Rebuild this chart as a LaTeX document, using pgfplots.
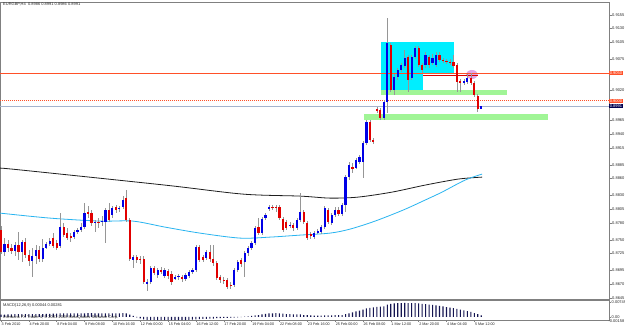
\documentclass[border=0pt]{standalone}
\usepackage{fontspec}
\setmainfont{Liberation Sans}
\usepackage{pgfplots}
\usepackage{pgfplotstable}
\pgfplotsset{compat=1.18}
\definecolor{bull}{RGB}{0,0,230}
\definecolor{bear}{RGB}{225,0,0}
\definecolor{wick}{RGB}{150,150,150}
\definecolor{maone}{RGB}{30,30,30}
\definecolor{matwo}{RGB}{40,180,240}
\definecolor{boxcyan}{RGB}{0,238,255}
\definecolor{boxgreen}{RGB}{160,245,150}
\definecolor{lvl}{RGB}{255,80,40}
\definecolor{bid}{RGB}{165,180,205}
\definecolor{bidlab}{RGB}{0,0,80}
\definecolor{ell}{RGB}{220,150,225}
\definecolor{frame}{RGB}{128,128,128}
\definecolor{txt}{RGB}{40,40,40}
\definecolor{macdc}{RGB}{20,20,80}
\newcommand\tf{\fontsize{4}{4.5}\selectfont}
\newcommand\df{\fontsize{3.7}{4.2}\selectfont}

\pgfplotstableread{
i o h l c
1 .87279 .87531 .87207 .87423
4 .87297 .87459 .87207 .87405
6 .87279 .87495 .87099 .87459
9 .87117 .87351 .86829 .87207
10 .87207 .87405 .87063 .87315
12 .87153 .87513 .87099 .87351
13 .87351 .87459 .87333 .87423
14 .87423 .87531 .87387 .87477
17 .87387 .87981 .87351 .87729
21 .87549 .87675 .87513 .87639
22 .87639 .87711 .87603 .87675
23 .87675 .87801 .87639 .87729
24 .87729 .88161 .87693 .87981
27 .87801 .87855 .87639 .87819
29 .87819 .87927 .87747 .87837
30 .87819 .88071 .87441 .88035
32 .87945 .88107 .87891 .88071
34 .88053 .88107 .87999 .88071
35 .88089 .88287 .88053 .88215
38 .87135 .87225 .86991 .87189
42 .86703 .86793 .86577 .86739
43 .86739 .87027 .86703 .86991
45 .86865 .86991 .86811 .86955
47 .86847 .86991 .86811 .86955
50 .86793 .86865 .86775 .86829
51 .86829 .86883 .86775 .86847
53 .86793 .86901 .86757 .86865
54 .86847 .86955 .86811 .86919
55 .86919 .86991 .86883 .86955
56 .86955 .87405 .86919 .87369
59 .87171 .87315 .87135 .87279
67 .86685 .86991 .86649 .86955
68 .86955 .87135 .86919 .87099
70 .87099 .87297 .86829 .87261
71 .87261 .87387 .87207 .87351
72 .87351 .87477 .87315 .87441
73 .87441 .87747 .87405 .87711
75 .87621 .87909 .87585 .87873
76 .87891 .87981 .87855 .87945
77 .88053 .88125 .88017 .88089
83 .87747 .87819 .87711 .87765
85 .87711 .87891 .87675 .87855
86 .87855 .88341 .87819 .87999
90 .87549 .87657 .87513 .87621
91 .87621 .87693 .87603 .87657
92 .87639 .87765 .87603 .87729
93 .87729 .88107 .87693 .88071
95 .87801 .87981 .87765 .87945
96 .87945 .88089 .87909 .88035
98 .87963 .88161 .87927 .88125
99 .88125 .88665 .87999 .88629
100 .88629 .88899 .88575 .88845
102 .88791 .88971 .88773 .88935
103 .88899 .89025 .88863 .88989
104 .88899 .89277 .88611 .89241
105 .89241 .89655 .89205 .89619
110 .89691 .90015 .89655 .89979
111 .89979 .91491 .89781 .91041
113 .90195 .90483 .90105 .90429
114 .90429 .90591 .90375 .90555
115 .90555 .90681 .90519 .90645
116 .90627 .90915 .90591 .90771
118 .90411 .90825 .90375 .90789
119 .90789 .90987 .90753 .90951
122 .90645 .90879 .90591 .90825
124 .90681 .90843 .90645 .90771
125 .90645 .90879 .90609 .90825
133 .90321 .90393 .90285 .90357
134 .90339 .90483 .90303 .90411
138 .89860 .89910 .89855 .89910
}\bull

\pgfplotstableread{
i o h l c
0 .87675 .87747 .87243 .87279
2 .87423 .87495 .87279 .87351
3 .87351 .87423 .87243 .87297
5 .87405 .87639 .87135 .87279
7 .87459 .87531 .87171 .87225
8 .87225 .87315 .87027 .87117
11 .87315 .87387 .87099 .87153
15 .87531 .87621 .87351 .87387
16 .87441 .87495 .87315 .87351
18 .87729 .87801 .87549 .87585
19 .87621 .87711 .87495 .87531
20 .87567 .87621 .87459 .87531
25 .87999 .88107 .87891 .87963
26 .87981 .88035 .87747 .87801
28 .87819 .87891 .87711 .87801
31 .88035 .88161 .87819 .87855
33 .88089 .88125 .87981 .88035
36 .88251 .88395 .87819 .87855
37 .87855 .87891 .87117 .87153
39 .87189 .87225 .87081 .87135
40 .87153 .87207 .87063 .87135
41 .87153 .87207 .86703 .86739
44 .86991 .87027 .86865 .86901
46 .86955 .87009 .86883 .86919
48 .86937 .86973 .86793 .86847
49 .86883 .86937 .86685 .86739
52 .86829 .86865 .86739 .86793
57 .87369 .87405 .87099 .87135
58 .87189 .87225 .87099 .87135
60 .87279 .87405 .87099 .87153
61 .87153 .87405 .87027 .87081
62 .87081 .87117 .86775 .86811
63 .86829 .86865 .86721 .86775
64 .86775 .86829 .86703 .86757
65 .86775 .86811 .86613 .86649
66 .86685 .86739 .86613 .86667
69 .87135 .87171 .87009 .87063
74 .87729 .87891 .87585 .87621
78 .88089 .88125 .88035 .88071
79 .88089 .88125 .87999 .88071
80 .88089 .88125 .87855 .87891
81 .87873 .87909 .87639 .87675
82 .87819 .87855 .87675 .87711
84 .87765 .87801 .87657 .87711
87 .87999 .88035 .87783 .87819
88 .87801 .87837 .87495 .87531
89 .87603 .87639 .87513 .87567
94 .88035 .88071 .87783 .87819
97 .88035 .88089 .87927 .87963
101 .88809 .88881 .88701 .88773
106 .89619 .89655 .89259 .89295
107 .89295 .89331 .89223 .89259
108 .89853 .89889 .89781 .89817
109 .89835 .89871 .89655 .89691
112 .91005 .91041 .90159 .90195
117 .90789 .90825 .90159 .90375
120 .90951 .90987 .90609 .90645
121 .90645 .90681 .90501 .90555
123 .90789 .90825 .90591 .90645
126 .90825 .90879 .90699 .90735
127 .90735 .90771 .90681 .90717
128 .90717 .90753 .90663 .90699
129 .90699 .90753 .90645 .90681
130 .90699 .90825 .90591 .90627
131 .90645 .90681 .90159 .90339
132 .90357 .90393 .90159 .90321
135 .90411 .90501 .90285 .90321
136 .90321 .90357 .90069 .90105
137 .90087 .90123 .89799 .89853
}\bear

\pgfplotstableread{
i m
0 .0012
1 .0012
2 .0013
3 .0013
4 .0014
5 .0014
6 .0014
7 .0015
8 .0014
9 .0014
10 .0014
11 .0015
12 .0015
13 .0016
14 .0016
15 .0017
16 .0017
17 .0018
18 .0018
19 .0018
20 .0018
21 .0018
22 .0018
23 .0019
24 .0019
25 .0020
26 .0020
27 .0019
28 .0019
29 .0019
30 .0019
31 .0019
32 .0019
33 .0019
34 .0019
35 .0020
36 .0018
37 .0012
38 .0005
39 -.0002
40 -.0008
41 -.0012
42 -.0015
43 -.0016
44 -.0017
45 -.0017
46 -.0017
47 -.0017
48 -.0017
49 -.0017
50 -.0017
51 -.0016
52 -.0016
53 -.0016
54 -.0015
55 -.0014
56 -.0012
57 -.0011
58 -.0010
59 -.0010
60 -.0009
61 -.0009
62 -.0006
63 -.0006
64 -.0005
65 -.0005
66 -.0004
67 -.0003
68 -.0002
69 -.0001
70 .0001
71 .0003
72 .0005
73 .0008
74 .0010
75 .0013
76 .0016
77 .0018
78 .0019
79 .0020
80 .0019
81 .0017
82 .0015
83 .0014
84 .0013
85 .0013
86 .0013
87 .0010
88 .0009
89 .0008
90 .0007
91 .0007
92 .0007
93 .0008
94 .0008
95 .0008
96 .0009
97 .0009
98 .0010
99 .0014
100 .0019
101 .0024
102 .0029
103 .0033
104 .0038
105 .0044
106 .0047
107 .0049
108 .0052
109 .0053
110 .0055
111 .0064
112 .0068
113 .0070
114 .0071
115 .0072
116 .0073
117 .0072
118 .0072
119 .0071
120 .0070
121 .0068
122 .0066
123 .0064
124 .0062
125 .0060
126 .0057
127 .0054
128 .0051
129 .0048
130 .0045
131 .0042
132 .0038
133 .0034
134 .0030
135 .0026
136 .0020
137 .0014
138 .0008
}\macd

\pgfplotsset{candle/.style={draw=none, mark=none, forget plot,
  error bars/.cd, y dir=plus, y explicit, error mark=none}}

\begin{document}
\begin{tikzpicture}
\useasboundingbox (0pt,0pt) rectangle (625pt,330pt);
\fill[white] (0pt,0pt) rectangle (625pt,330pt);
\begin{axis}[
  at={(0pt,31pt)}, anchor=south west,
  width=609pt, height=297pt, scale only axis,
  xmin=-0.29, xmax=174.7, ymin=0.86433, ymax=0.91779,
  clip=false,
  axis line style={draw=frame, line width=0.5pt},
  xtick=\empty, scaled y ticks=false,
  ytick={0.9155,0.9130,0.9105,0.9075,0.9020,0.8965,0.8940,0.8915,0.8885,0.8860,0.8830,0.8805,0.8780,0.8750,0.8725,0.8695,0.8670,0.8645},
  yticklabels={0.9155,0.9130,0.9105,0.9075,0.9020,0.8965,0.8940,0.8915,0.8885,0.8860,0.8830,0.8805,0.8780,0.8750,0.8725,0.8695,0.8670,0.8645},
  ytick pos=right, yticklabel pos=right,
  tick align=outside, major tick length=2.5pt,
  tick style={draw=frame, line width=0.4pt},
  yticklabel style={font=\tf, text=txt, inner sep=0.5pt},
]
% objects (background)
\fill[boxcyan] (axis cs:109.2,0.90501) rectangle (axis cs:130.2,0.91059);
\fill[boxcyan] (axis cs:109.2,0.90159) rectangle (axis cs:121.3,0.90501);
\fill[boxgreen] (axis cs:109.2,0.90110) rectangle (axis cs:145.4,0.90190);
\fill[boxgreen] (axis cs:104.3,0.89655) rectangle (axis cs:157.2,0.89763);
\fill[ell, fill opacity=0.85] (axis cs:135.3,0.90474) ellipse [x radius=6pt, y radius=4.5pt];
\draw[draw=lvl, line width=0.7pt] (axis cs:-0.29,0.9050) -- (axis cs:174.7,0.9050);
\draw[draw=lvl, line width=0.7pt, dash pattern=on 1.2pt off 0.8pt] (axis cs:-0.29,0.9000) -- (axis cs:174.7,0.9000);
\draw[draw=bid, line width=0.6pt] (axis cs:-0.29,0.8991) -- (axis cs:174.7,0.8991);
\draw[draw=red!85!black, line width=0.8pt] (axis cs:121.3,0.90456) -- (axis cs:137.1,0.90456);
% moving averages
\addplot[maone, line width=0.8pt, smooth, mark=none] coordinates {
(-0.29,0.88789) (6.03,0.88753) (47.13,0.88483) (69.54,0.88321) (85.92,0.88285)
(94.54,0.88249) (102.59,0.88267) (112.36,0.88357) (121.84,0.88483) (131.32,0.88591) (138.22,0.88627)};
\addplot[matwo, line width=0.8pt, smooth, mark=none] coordinates {
(-0.29,0.87979) (14.08,0.87889) (28.45,0.87835) (37.93,0.87835) (47.13,0.87727) (57.18,0.87619)
(68.68,0.87529) (77.30,0.87547) (85.92,0.87583) (94.54,0.87619) (100.29,0.87691) (107.47,0.87835)
(115.52,0.88033) (121.84,0.88213) (126.72,0.88357) (133.33,0.88573) (138.22,0.88681)};
% wicks
\addplot[candle, error bar style={draw=wick, line width=0.6pt, solid}]
  table[x=i, y=l, y error plus expr=\thisrow{h}-\thisrow{l}] {\bull};
\addplot[candle, error bar style={draw=wick, line width=0.6pt, solid}]
  table[x=i, y=l, y error plus expr=\thisrow{h}-\thisrow{l}] {\bear};
% bodies
\addplot[candle, error bar style={draw=bull, line width=2.2pt, solid}]
  table[x=i, y=o, y error plus expr=\thisrow{c}-\thisrow{o}] {\bull};
\addplot[candle, error bar style={draw=bear, line width=2.2pt, solid}]
  table[x=i, y=c, y error plus expr=\thisrow{o}-\thisrow{c}] {\bear};
% price labels
\node[fill=lvl, text=white, font=\tf, inner sep=0.6pt, anchor=west] at (axis cs:174.7,0.9050) {0.9050};
\node[fill=lvl, text=white, font=\tf, inner sep=0.6pt, anchor=west] at (axis cs:174.7,0.9000) {0.9000};
\node[fill=bidlab, text=white, font=\tf, inner sep=0.6pt, anchor=west] at (axis cs:174.7,0.8991) {0.8991};
\end{axis}

\begin{axis}[
  at={(0pt,10pt)}, anchor=south west,
  width=609pt, height=19.5pt, scale only axis,
  xmin=-0.29, xmax=174.7, ymin=-0.00158, ymax=0.0085,
  clip=false, scaled y ticks=false,
  axis line style={draw=frame, line width=0.5pt},
  xtick={0,8,...,136},
  xticklabels={3 Feb 2010,4 Feb 20:00,8 Feb 04:00,9 Feb 08:00,10 Feb 16:00,12 Feb 00:00,15 Feb 04:00,16 Feb 12:00,17 Feb 20:00,19 Feb 04:00,22 Feb 08:00,23 Feb 16:00,25 Feb 00:00,26 Feb 08:00,1 Mar 12:00,2 Mar 20:00,4 Mar 04:00,5 Mar 12:00},
  xtick pos=bottom, xticklabel pos=bottom,
  ytick={0.00749,0}, yticklabels={0.00749,0.00},
  ytick pos=right, yticklabel pos=right,
  tick align=outside, major tick length=2pt,
  tick style={draw=frame, line width=0.4pt},
  xticklabel style={font=\df, text=txt, anchor=north west, inner sep=0.5pt},
  yticklabel style={font=\tf, text=txt, inner sep=0.5pt},
]
\addplot[ybar, bar width=1.1pt, fill=macdc, draw=none] table[x=i, y=m] {\macd};
\end{axis}

\node[font=\tf, text=txt, anchor=north west, inner sep=0pt] at (3pt,327pt) {EURGBP,H4\ \ 0.8986 0.8991 0.8986 0.8991};
\node[font=\tf, text=txt, anchor=west, inner sep=0pt] at (3pt,25pt) {MACD(12,26,9) 0.00044 0.00281};
\node[font=\tf, text=txt, anchor=west, inner sep=0pt] at (3pt,13pt) {Interbank FX Trader 4, © 2001-2008 MetaQuotes Software Corp.};
\node[font=\tf, text=txt, anchor=east, inner sep=0pt] at (624.5pt,8.5pt) {-0.00158};
\end{tikzpicture}
\end{document}
